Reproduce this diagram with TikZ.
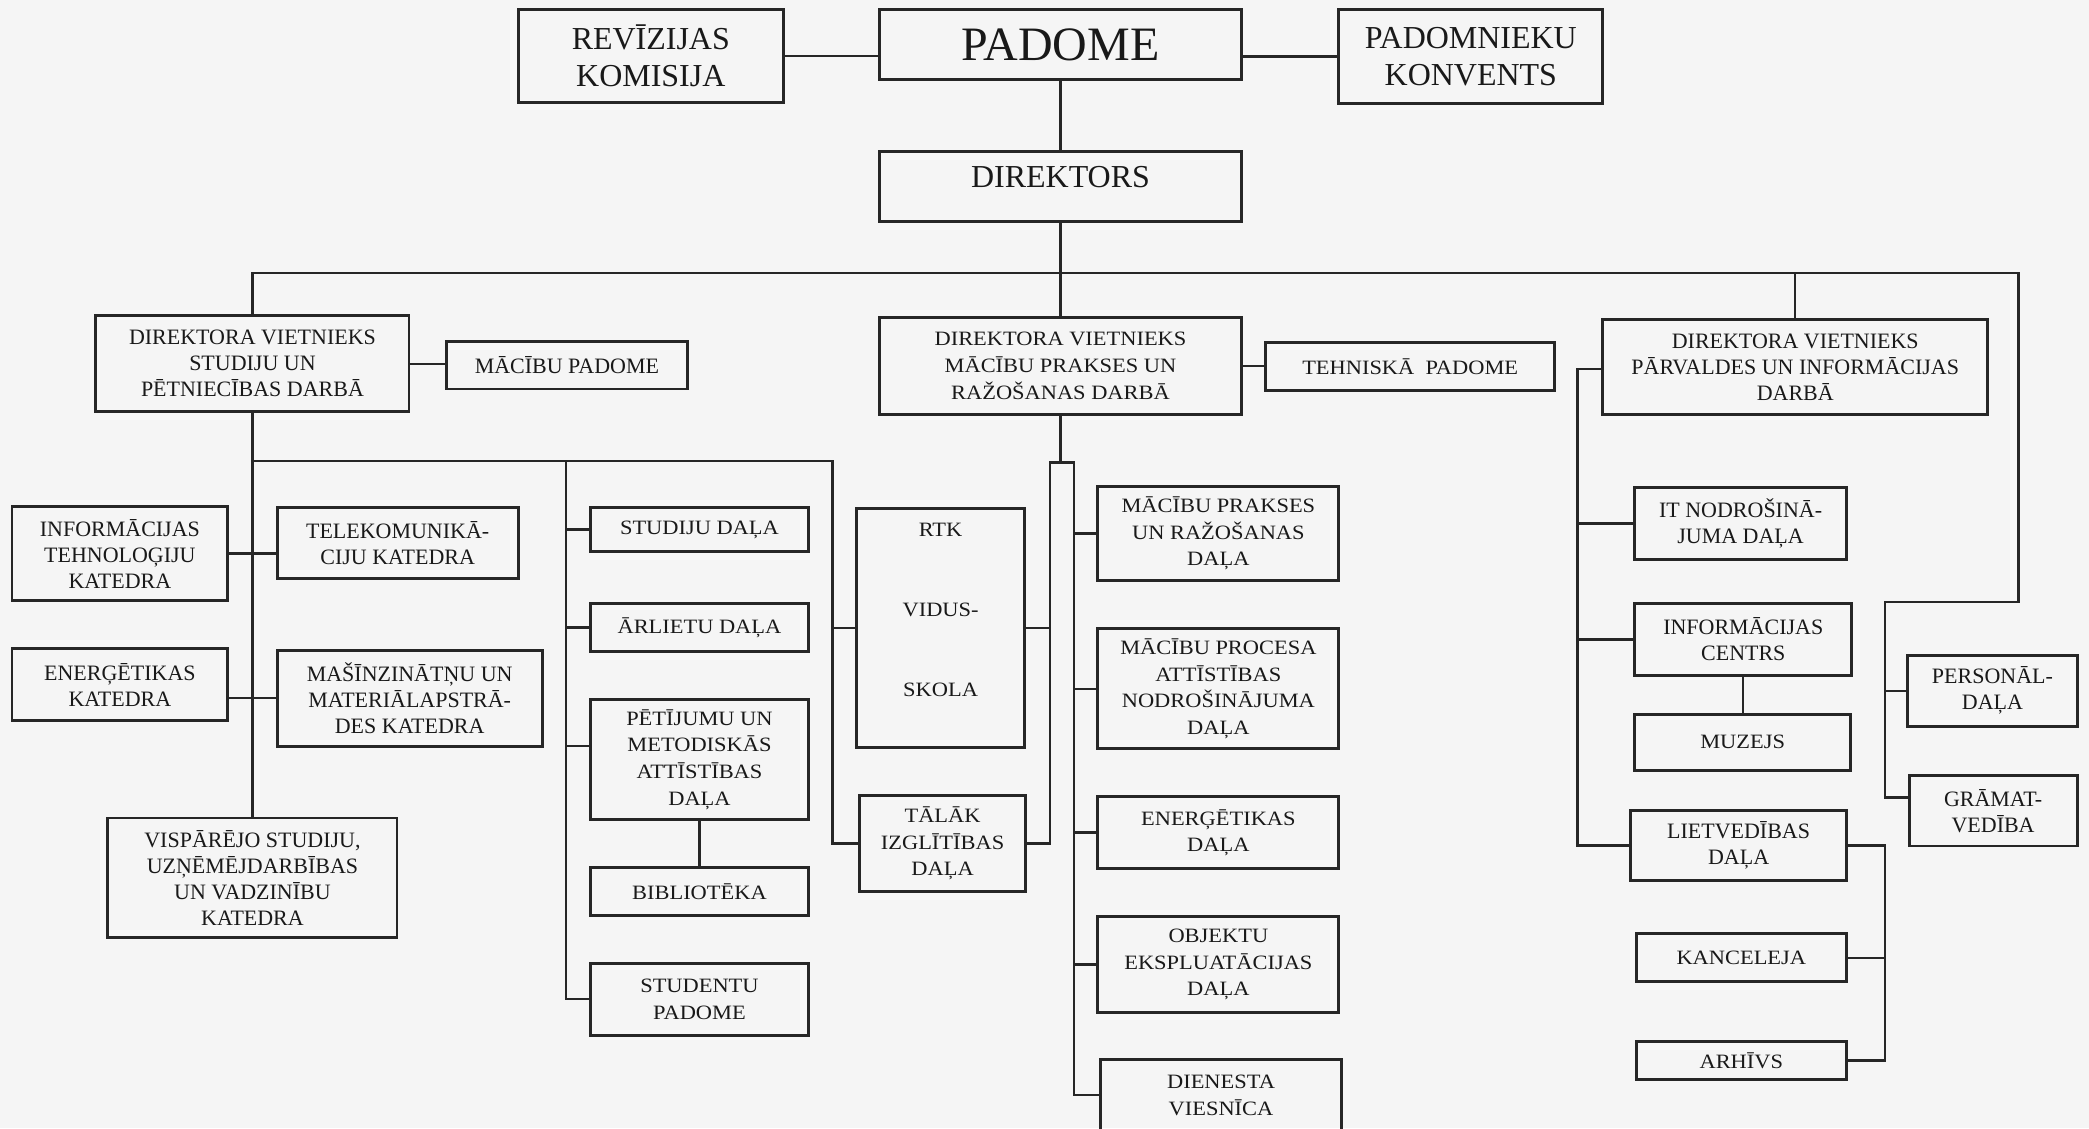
\documentclass[tikz,border=0pt]{standalone}
\usepackage{fontspec}
\setmainfont{Liberation Serif}
\newfontfamily\widefont[FakeStretch=1.1]{Liberation Serif}

\begin{document}
\begin{tikzpicture}[x=1pt,y=-1pt]
\tikzstyle{box}=[draw=black!85, text=black!90, line width=2.2pt, inner sep=0pt, font=\fontsize{16.5}{19.5}\selectfont]
\tikzstyle{wbox}=[box, font=\widefont\fontsize{15.3}{20}\selectfont]
\tikzstyle{big}=[box, font=\fontsize{24}{28}\selectfont]
\tikzstyle{link}=[draw=black!85, line width=1.8pt]
\useasboundingbox (0,0) rectangle (1568,847);
\fill[black!4] (0,0) rectangle (1568,847);

\node[big] (rev) at (488.5,42) {\parbox[c][70pt][c]{199pt}{\centering REVĪZIJAS\\KOMISIJA}};
\node[big, font=\fontsize{36}{40}\selectfont] (padome) at (796,33.5) {\parbox[c][53pt][c]{272pt}{\centering PADOME}};
\node[big] (konv) at (1104,42.5) {\parbox[c][71pt][c]{198pt}{\centering PADOMNIEKU\\KONVENTS}};
\node[big] (direktors) at (796,140) {\parbox[c][52pt][t]{272pt}{\centering\vspace{11pt}DIREKTORS}};

\node[box] (dv1) at (189.5,273) {\parbox[c][72pt][c]{235pt}{\centering DIREKTORA VIETNIEKS\\STUDIJU UN\\PĒTNIECĪBAS DARBĀ}};
\node[box] (macpad) at (425.5,274) {\parbox[c][36pt][c]{181pt}{\centering MĀCĪBU PADOME}};
\node[wbox] (dv2) at (796,274.5) {\parbox[c][73pt][c]{272pt}{\centering DIREKTORA VIETNIEKS\\MĀCĪBU PRAKSES UN\\RAŽOŠANAS DARBĀ}};
\node[wbox] (tehpad) at (1058.5,275) {\parbox[c][36pt][c]{217pt}{\centering TEHNISKĀ~ PADOME}};
\node[box] (dv3) at (1347.5,275.5) {\parbox[c][71pt][c]{289pt}{\centering DIREKTORA VIETNIEKS\\PĀRVALDES UN INFORMĀCIJAS\\DARBĀ}};

\node[box] (itk) at (90,415.5) {\parbox[c][71pt][c]{162pt}{\centering INFORMĀCIJAS\\TEHNOLOĢIJU\\KATEDRA}};
\node[box] (tkk) at (298.5,407.5) {\parbox[c][53pt][c]{181pt}{\centering TELEKOMUNIKĀ-\\CIJU KATEDRA}};
\node[box] (enk) at (90,514) {\parbox[c][54pt][c]{162pt}{\centering ENERĢĒTIKAS\\KATEDRA}};
\node[box] (mmk) at (307.5,524) {\parbox[c][72pt][c]{199pt}{\centering MAŠĪNZINĀTŅU UN\\MATERIĀLAPSTRĀ-\\DES KATEDRA}};
\node[box] (vsk) at (189.5,659) {\parbox[c][90pt][c]{217pt}{\centering VISPĀRĒJO STUDIJU,\\UZŅĒMĒJDARBĪBAS\\UN VADZINĪBU\\KATEDRA}};

\node[wbox] (stud) at (525,397.5) {\parbox[c][33pt][c]{164pt}{\centering STUDIJU DAĻA}};
\node[wbox] (arl) at (525,471) {\parbox[c][36pt][c]{164pt}{\centering ĀRLIETU DAĻA}};
\node[wbox] (pet) at (525,570) {\parbox[c][90pt][c]{164pt}{\centering PĒTĪJUMU UN\\METODISKĀS\\ATTĪSTĪBAS\\DAĻA}};
\node[wbox] (bibl) at (525,669) {\parbox[c][36pt][c]{164pt}{\centering BIBLIOTĒKA}};
\node[wbox] (stp) at (525,750) {\parbox[c][54pt][c]{164pt}{\centering STUDENTU\\PADOME}};

\node[wbox] (rtk) at (706,471.5) {\parbox[c][179pt][t]{126pt}{\centering\vspace{11pt}RTK\\[40pt]VIDUS-\\[40pt]SKOLA}};
\node[wbox] (tal) at (707.5,633) {\parbox[c][72pt][c]{125pt}{\centering TĀLĀK\\IZGLĪTĪBAS\\DAĻA}};

\node[wbox] (mprd) at (914.5,400.5) {\parbox[c][71pt][c]{181pt}{\centering MĀCĪBU PRAKSES\\UN RAŽOŠANAS\\DAĻA}};
\node[wbox] (mpad) at (914.5,517) {\parbox[c][90pt][c]{181pt}{\centering MĀCĪBU PROCESA\\ATTĪSTĪBAS\\NODROŠINĀJUMA\\DAĻA}};
\node[wbox] (enerd) at (914.5,625) {\parbox[c][54pt][c]{181pt}{\centering ENERĢĒTIKAS\\DAĻA}};
\node[wbox] (obj) at (914.5,724) {\parbox[c][72pt][c]{181pt}{\centering OBJEKTU\\EKSPLUATĀCIJAS\\DAĻA}};
\node[wbox] (die) at (916.5,822) {\parbox[c][54pt][c]{181pt}{\centering DIENESTA\\VIESNĪCA}};

\node[box] (itn) at (1306.5,393) {\parbox[c][54pt][c]{159pt}{\centering IT NODROŠINĀ-\\JUMA DAĻA}};
\node[box] (ic) at (1308.5,480) {\parbox[c][54pt][c]{163pt}{\centering INFORMĀCIJAS\\CENTRS}};
\node[wbox] (muz) at (1308,557) {\parbox[c][42pt][c]{162pt}{\centering MUZEJS}};
\node[box] (liet) at (1305,634.5) {\parbox[c][53pt][c]{162pt}{\centering LIETVEDĪBAS\\DAĻA}};
\node[wbox] (kanc) at (1307,719) {\parbox[c][36pt][c]{158pt}{\centering KANCELEJA}};
\node[wbox] (arh) at (1307,796) {\parbox[c][28pt][c]{158pt}{\centering ARHĪVS}};
\node[box] (pers) at (1495.5,518.5) {\parbox[c][53pt][c]{127pt}{\centering PERSONĀL-\\DAĻA}};
\node[box] (gram) at (1496,608.5) {\parbox[c][53pt][c]{126pt}{\centering GRĀMAT-\\VEDĪBA}};

\coordinate (busl) at (189.5,205);
\coordinate (busr) at (1515,205);
\coordinate (pv) at (1415,452);
\coordinate (sv) at (425,346);
\coordinate (mb) at (625,346);
\coordinate (ml) at (788,347);
\coordinate (mr) at (806,347);
\coordinate (rv) at (1184,277);
\coordinate (lv) at (1415,634.5);

\draw[link] (rev.east) -- (rev.east -| padome.west);
\draw[link] (konv.west) -- (konv.west -| padome.east);
\draw[link] (padome.south) -- (direktors.north);
\draw[link] (direktors.south) -- (direktors.south |- busl);
\draw[link] (dv1.north) |- (busr) |- (pv) |- ([yshift=10pt]gram.west);
\draw[link] (dv2.north) -- (dv2.north |- busl);
\draw[link] (dv3.north) -- (dv3.north |- busl);
\draw[link] (pers.west) -- (pers.west -| pv);

\draw[link] (dv1.east) -- (dv1.east -| macpad.west);
\draw[link] (dv1.south) -- (vsk.north);
\draw[link] (itk.east) -- (itk.east -| tkk.west);
\draw[link] (mmk.west) -- (mmk.west -| enk.east);
\draw[link] (dv1.south |- sv) -- (mb) |- (tal.west);
\draw[link] (rtk.west) -- (rtk.west -| mb);
\draw[link] (sv) |- (stp.west);
\draw[link] (stud.west) -- (stud.west -| sv);
\draw[link] (arl.west) -- (arl.west -| sv);
\draw[link] ([yshift=10pt]pet.west) -- ([yshift=10pt]pet.west -| sv);
\draw[link] (pet.south) -- (bibl.north);

\draw[link] (dv2.east) -- (dv2.east -| tehpad.west);
\draw[link] (dv2.south) -- (dv2.south |- ml);
\draw[link] (tal.east) -| (ml) -- (mr) |- (die.west);
\draw[link] (rtk.east) -- (rtk.east -| ml);
\draw[link] (mprd.west) -- (mprd.west -| mr);
\draw[link] (mpad.west) -- (mpad.west -| mr);
\draw[link] (enerd.west) -- (enerd.west -| mr);
\draw[link] (obj.west) -- (obj.west -| mr);

\draw[link] (dv3.west |- rv) -- (rv) |- (liet.west);
\draw[link] (itn.west) -- (itn.west -| rv);
\draw[link] (ic.west) -- (ic.west -| rv);
\draw[link] (ic.south) -- (ic.south |- muz.north);
\draw[link] (liet.east) -- (lv) |- (arh.east);
\draw[link] (kanc.east) -- (kanc.east -| lv);
\end{tikzpicture}
\end{document}
